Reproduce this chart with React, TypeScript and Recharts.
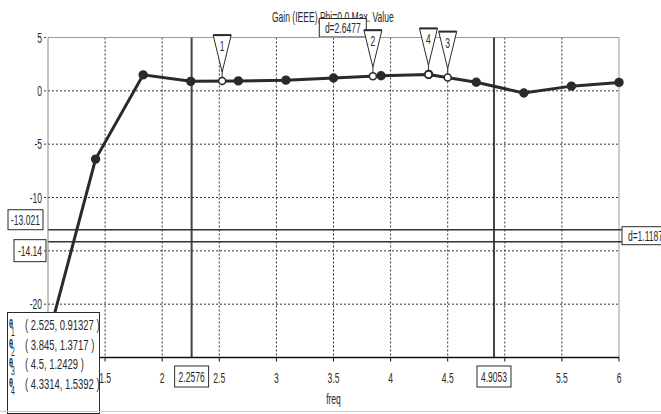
import { LineChart, Line, XAxis, YAxis, CartesianGrid, ReferenceLine, ReferenceDot, ReferenceArea } from 'recharts';

// sampled gain curve
const freq = [1, 1.4167, 1.8333, 2.25, 2.6667, 3.0833, 3.5, 3.9167, 4.3333, 4.75, 5.1667, 5.5833, 6];
const gain = [-23.2, -6.4, 1.5, 0.89, 0.93, 1.0, 1.2, 1.41, 1.54, 0.8, -0.2, 0.44, 0.79];

const xTicks = [1, 1.5, 2, 2.5, 3, 3.5, 4, 4.5, 5, 5.5, 6];
const yTicks = [-25, -20, -15, -10, -5, 0, 5];
const xGrid = [1.5, 2, 2.5, 3, 3.5, 4, 4.5, 5, 5.5];
const yGrid = [-20, -15, -10, -5, 0];
// tick labels that sit under the cursor / marker tags
const xHidden = [1, 5];
const yHidden = [-25, -15];

// markers placed on the trace
const markerIds = ['1', '2', '3', '4'];
const markerFreq = [2.525, 3.845, 4.5, 4.3314];
const markerGain = [0.91327, 1.3717, 1.2429, 1.5392];

// cursor pairs and their deltas
const cursorX = [2.2576, 4.9053];
const cursorY = [-13.021, -14.14];
const deltaX = 2.6477;
const deltaY = 1.1187;

const title = 'Gain (IEEE),Phi=0.0 Max. Value';

const FONT = "'Liberation Sans', Arial, sans-serif";
const FS = 15;
const SX = 0.57; // horizontal squeeze for the narrow label face
const INK = '#2a2a2a';

const data = freq.map((f, i) => ({ freq: f, gain: gain[i] }));

function CText({ x, y, anchor = 'middle', children }: { x: number; y: number; anchor?: string; children: any }) {
  return (
    <text
      transform={`translate(${x} ${y}) scale(${SX} 1)`}
      textAnchor={anchor as any}
      fontSize={FS}
      fontFamily={FONT}
      fill={INK}
    >
      {children}
    </text>
  );
}

function Tag({ x, y, w, h, text }: { x: number; y: number; w: number; h: number; text: string }) {
  return (
    <g>
      <rect x={x} y={y} width={w} height={h} fill="#fff" stroke={INK} strokeWidth={1} />
      <CText x={x + w / 2} y={y + h / 2 + 5}>{text}</CText>
    </g>
  );
}

function XTick({ x, y, payload }: any) {
  if (xHidden.includes(payload.value)) return null;
  return <CText x={x} y={y + 13}>{String(payload.value)}</CText>;
}

function YTick({ x, y, payload }: any) {
  if (yHidden.includes(payload.value)) return null;
  return <CText x={x} y={y + 5} anchor="end">{String(payload.value)}</CText>;
}

function MarkerFlag({ cx, cy, id }: { cx?: number; cy?: number; id: string }) {
  if (cx == null || cy == null) return null;
  const top = cy - 46;
  const tip = cy - 9;
  return (
    <g>
      <polygon points={`${cx - 9},${top} ${cx + 9},${top} ${cx},${tip}`} fill="#fff" stroke={INK} strokeWidth={1} />
      <line x1={cx - 9} y1={top} x2={cx + 9} y2={top} stroke={INK} strokeWidth={2} />
      <line x1={cx} y1={tip} x2={cx} y2={cy - 3} stroke={INK} strokeWidth={1} />
      <CText x={cx} y={top + 16}>{id}</CText>
      <circle cx={cx} cy={cy} r={3.5} fill="#fff" stroke={INK} strokeWidth={1.5} />
    </g>
  );
}

const squeeze = { display: 'inline-block', transform: `scaleX(${SX})`, transformOrigin: 'left center', whiteSpace: 'nowrap' as const };

export default function App() {
  return (
    <div style={{ position: 'absolute', left: 0, top: 0, width: 661, height: 414, background: '#fff', fontFamily: FONT, fontSize: FS, color: INK, overflow: 'hidden' }}>
      <div style={{ position: 'absolute', left: 0, width: 665, top: 8, textAlign: 'center', lineHeight: '17px' }}>
        <span style={{ display: 'inline-block', transform: `scaleX(${SX})`, whiteSpace: 'nowrap' }}>{title}</span>
      </div>
      <div style={{ position: 'absolute', left: 0, top: 0 }}>
        <LineChart width={661} height={414} data={data} margin={{ top: 37.5, right: 42, bottom: 6.5, left: 0 }}>
          <CartesianGrid horizontalValues={yGrid} verticalValues={xGrid} stroke="#333" strokeDasharray="2 2" />
          <ReferenceLine y={5} stroke="#999" />
          <ReferenceLine x={6} stroke="#999" />
          <XAxis
            dataKey="freq"
            type="number"
            domain={[1, 6]}
            ticks={xTicks}
            height={50}
            tickSize={4}
            tickMargin={8}
            axisLine={{ stroke: '#111', strokeWidth: 1.5 }}
            tickLine={{ stroke: '#111' }}
            tick={<XTick />}
            label={(p: any) => {
              const vb = p.viewBox;
              return <CText x={vb.x + vb.width / 2} y={vb.y + vb.height - 4}>freq</CText>;
            }}
          />
          <YAxis
            type="number"
            domain={[-25, 5]}
            ticks={yTicks}
            width={48}
            tickSize={4}
            tickMargin={2}
            axisLine={{ stroke: '#888' }}
            tickLine={{ stroke: '#333', strokeDasharray: '2 2' }}
            tick={<YTick />}
          />
          <ReferenceArea
            x1={cursorX[0]}
            x2={cursorX[1]}
            fillOpacity={0}
            strokeOpacity={0}
            label={(p: any) => {
              const vb = p.viewBox;
              return <Tag x={vb.x + vb.width / 2 - 23.5} y={vb.y - 19} w={47} h={18.5} text={`d=${deltaX}`} />;
            }}
          />
          <ReferenceArea
            y1={cursorY[1]}
            y2={cursorY[0]}
            fillOpacity={0}
            strokeOpacity={0}
            label={(p: any) => {
              const vb = p.viewBox;
              return <Tag x={vb.x + vb.width + 3} y={vb.y + vb.height / 2 - 9} w={47} h={18} text={`d=${deltaY}`} />;
            }}
          />
          {cursorX.map((v) => (
            <ReferenceLine
              key={`cx${v}`}
              x={v}
              stroke="#444"
              strokeWidth={2}
              label={(p: any) => {
                const vb = p.viewBox;
                return <Tag x={vb.x - 17} y={vb.y + vb.height + 8.5} w={34} h={21} text={String(v)} />;
              }}
            />
          ))}
          {cursorY.map((v, i) => (
            <ReferenceLine
              key={`cy${v}`}
              segment={[{ x: 1, y: v }, { x: 6.025, y: v }]}
              ifOverflow="visible"
              stroke="#333"
              strokeWidth={1.5}
              label={(p: any) => {
                const vb = p.viewBox;
                return i === 0 ? (
                  <Tag x={8} y={vb.y - 20} w={35} h={20} text={String(v)} />
                ) : (
                  <Tag x={14} y={vb.y - 2} w={32} h={22} text={String(v)} />
                );
              }}
            />
          ))}
          <Line
            dataKey="gain"
            stroke={INK}
            strokeWidth={3}
            dot={{ r: 3.2, fill: INK, stroke: INK }}
            isAnimationActive={false}
          />
          {markerIds.map((id, i) => (
            <ReferenceDot
              key={id}
              x={markerFreq[i]}
              y={markerGain[i]}
              r={3.5}
              shape={(p: any) => <MarkerFlag cx={p.cx} cy={p.cy} id={id} />}
            />
          ))}
        </LineChart>
      </div>
      <div
        style={{
          position: 'absolute',
          left: 7,
          top: 312,
          width: 91,
          height: 97,
          border: `1px solid ${INK}`,
          background: '#fff',
          paddingTop: 3,
        }}
      >
        {markerIds.map((id, i) => (
          <div key={id} style={{ position: 'relative', height: 19.5, lineHeight: '17px' }}>
            <span style={{ position: 'absolute', left: 1, top: -1, ...squeeze, fontWeight: 'bold', fontSize: 13 }}>θ</span>
            <span style={{ position: 'absolute', left: 3, top: 10, ...squeeze, fontSize: 12, lineHeight: '12px' }}>{id}</span>
            <span style={{ position: 'absolute', left: 17, top: 0, ...squeeze, transform: 'scaleX(0.63)' }}>
              {`( ${markerFreq[i]}, ${markerGain[i]} )`}
            </span>
          </div>
        ))}
      </div>
      <div style={{ position: 'absolute', left: 0, right: 0, top: 411, height: 1, background: '#ccc' }} />
    </div>
  );
}
